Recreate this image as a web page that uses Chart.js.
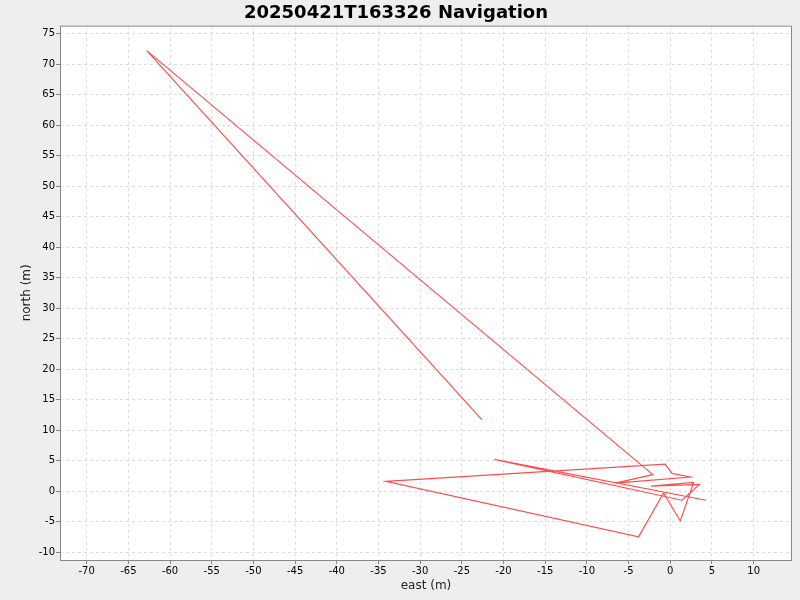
<!DOCTYPE html>
<html>
<head>
<meta charset="utf-8">
<script src="https://cdn.jsdelivr.net/npm/chart.js@4.4.1/dist/chart.umd.min.js"></script>
<style>
  html, body { margin: 0; padding: 0; background: #eeeeee; }
  #wrap { width: 800px; height: 600px; }
</style>
</head>
<body>
<div id="wrap"><canvas id="nav"></canvas></div>
<script>
'use strict';

const TITLE = '20250421T163326 Navigation';
const eastM  = [-22.6, -62.8, -2.1, -6.6, 2.4, 0.2, -0.6, -34.1, -3.8, -0.8, 1.2, 2.8, -2.3, 3.5, 1.4, -21.1, 4.3];
const northM = [11.7, 72.2, 2.7, 1.3, 2.3, 2.9, 4.4, 1.6, -7.5, -0.3, -4.9, 1.4, 0.8, 1.1, -1.5, 5.2, -1.5];
const xTicks = [-70, -65, -60, -55, -50, -45, -40, -35, -30, -25, -20, -15, -10, -5, 0, 5, 10];
const yTicks = [-10, -5, 0, 5, 10, 15, 20, 25, 30, 35, 40, 45, 50, 55, 60, 65, 70, 75];

const FONT = 'DejaVu Sans';

const frame = {
  id: 'frame',
  beforeDraw(chart) {
    const { ctx, chartArea: a } = chart;
    ctx.save();
    ctx.fillStyle = '#eeeeee';
    ctx.fillRect(0, 0, chart.width, chart.height);
    ctx.fillStyle = '#ffffff';
    ctx.fillRect(a.left, a.top, a.right - a.left, a.bottom - a.top);
    ctx.restore();
  },
  afterDraw(chart) {
    const { ctx, chartArea: a } = chart;
    ctx.save();
    ctx.strokeStyle = '#888888';
    ctx.lineWidth = 1;
    ctx.strokeRect(a.left + 0.5, a.top + 0.5, a.right - a.left - 1, a.bottom - a.top);
    ctx.restore();
  }
};

new Chart(document.getElementById('nav'), {
  type: 'scatter',
  data: {
    datasets: [{
      data: eastM.map((e, i) => ({ x: e, y: northM[i] })),
      showLine: true,
      borderColor: '#ff4d4d',
      borderWidth: 1.2,
      pointRadius: 0,
      tension: 0
    }]
  },
  options: {
    responsive: true, maintainAspectRatio: false, animation: false,
    layout: { padding: { left: 0, right: 8, top: 1, bottom: 0 } },
    plugins: {
      legend: { display: false },
      tooltip: { enabled: false },
      title: {
        display: true, text: TITLE, color: '#000',
        font: { family: FONT, size: 18, weight: 'bold' },
        padding: { top: 2, bottom: 1 }
      }
    },
    scales: {
      x: {
        type: 'linear', min: -73.2, max: 14.6,
        afterBuildTicks: s => { s.ticks = xTicks.map(v => ({ value: v })); },
        afterFit: s => { s.height = 40; },
        ticks: { color: '#000', font: { family: FONT, size: 10 }, padding: 1, maxRotation: 0, autoSkip: false },
        grid: { color: '#dddddd', tickColor: '#888', tickLength: 4, tickBorderDash: [] },
        border: { display: false, dash: [3, 3] },
        title: { display: true, text: 'east (m)', color: '#222', font: { family: FONT, size: 12 }, padding: { top: 0, bottom: 7 } }
      },
      y: {
        type: 'linear', min: -11.3, max: 76.3,
        afterBuildTicks: s => { s.ticks = yTicks.map(v => ({ value: v })); },
        afterFit: s => { s.width = 60; },
        ticks: { color: '#000', font: { family: FONT, size: 10 }, padding: 1, autoSkip: false },
        grid: { color: '#dddddd', tickColor: '#888', tickLength: 4, tickBorderDash: [] },
        border: { display: false, dash: [3, 3] },
        title: { display: true, text: 'north (m)', color: '#222', font: { family: FONT, size: 12 }, padding: { top: 20, bottom: 0 } }
      }
    }
  },
  plugins: [frame]
});
</script>
</body>
</html>
